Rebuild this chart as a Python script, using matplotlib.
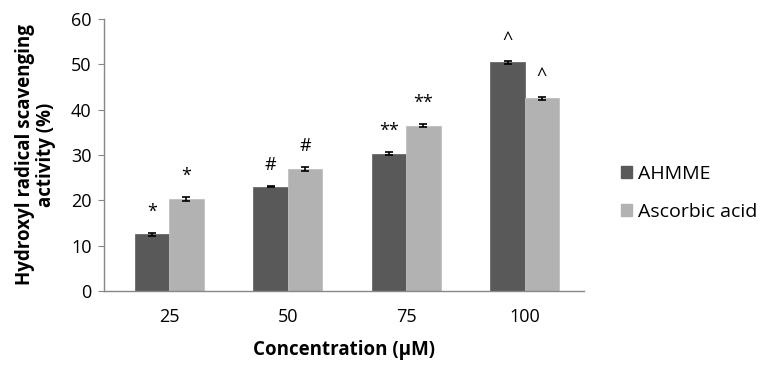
import numpy as np
import matplotlib.pyplot as plt
from matplotlib.patches import Patch

# concentration groups
categories = ['25', '50', '75', '100']
ahmme = [12.5, 23.0, 30.3, 50.5]
ahmme_err = [0.4, 0.15, 0.4, 0.35]
ascorbic = [20.4, 27.0, 36.5, 42.5]
ascorbic_err = [0.45, 0.45, 0.4, 0.25]
ahmme_marks = ['*', '#', '**', '^']
ascorbic_marks = ['*', '#', '**', '^']

plt.rcParams['font.family'] = ['Open Sans', 'DejaVu Sans']

dark = '#595959'
light = '#b2b2b2'

fig = plt.figure(figsize=(7.61, 3.77), dpi=100)
ax = fig.add_axes([0.1367, 0.228, 0.6307, 0.7215])

x = np.arange(len(categories))
w = 0.29
ax.bar(x - w/2, ahmme, w, color=dark, edgecolor='#6a6a6a', linewidth=0.6,
       yerr=ahmme_err, error_kw=dict(ecolor='black', capsize=3, elinewidth=1.2, capthick=1.2))
ax.bar(x + w/2, ascorbic, w, color=light, edgecolor='#c0c0c0', linewidth=0.6,
       yerr=ascorbic_err, error_kw=dict(ecolor='black', capsize=3, elinewidth=1.2, capthick=1.2))

for i in range(len(categories)):
    ax.text(x[i] - w/2, ahmme[i] + ahmme_err[i] + 4.6, ahmme_marks[i],
            ha='center', va='center', fontsize=13)
    ax.text(x[i] + w/2, ascorbic[i] + ascorbic_err[i] + 4.6, ascorbic_marks[i],
            ha='center', va='center', fontsize=13)

ax.set_xlim(-0.55, 3.5)
ax.set_ylim(0, 60)
ax.set_yticks(range(0, 61, 10))
ax.set_xticks(x)
ax.set_xticklabels(categories)
ax.tick_params(axis='x', length=0, pad=12, labelsize=13)
ax.tick_params(axis='y', length=4, color='#888888', labelsize=13, pad=5)
for s in ['top', 'right']:
    ax.spines[s].set_visible(False)
for s in ['left', 'bottom']:
    ax.spines[s].set_color('#888888')
    ax.spines[s].set_linewidth(1.0)

ax.set_ylabel('Hydroxyl radical scavenging\nactivity (%)', fontsize=13.5,
              fontweight='bold', linespacing=1.05, labelpad=11)
ax.set_xlabel('Concentration (\u03bcM)', fontsize=13.5, fontweight='bold', labelpad=10)

handles = [Patch(color=dark), Patch(color=light)]
fig.legend(handles, ['AHMME', 'Ascorbic acid'], loc='center left',
           bbox_to_anchor=(0.816, 0.488), frameon=False, fontsize=14,
           borderpad=0, borderaxespad=0,
           handlelength=0.57, handleheight=0.57, handletextpad=0.31, labelspacing=1.05)

fig.savefig('out.png', dpi=100)
